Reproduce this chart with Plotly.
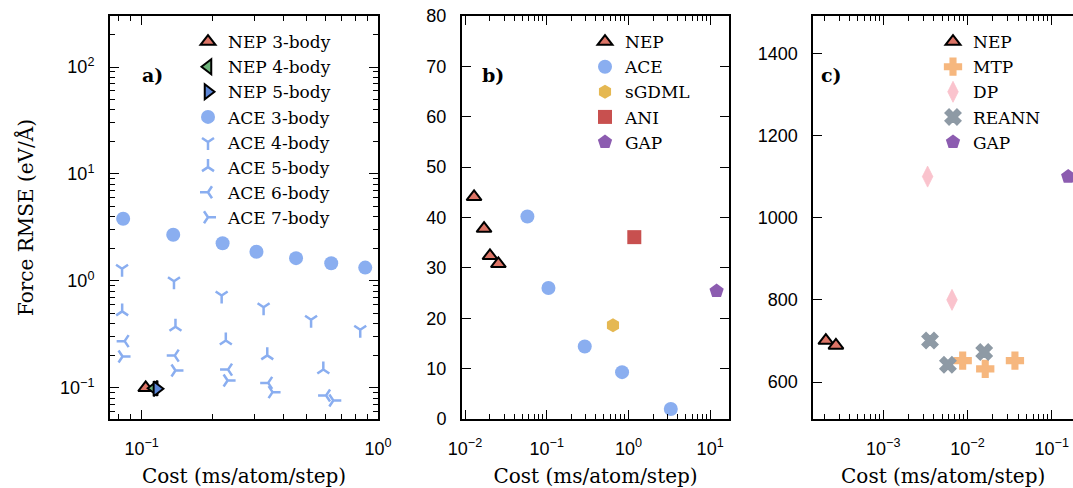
import plotly.graph_objects as go

# ---------------- Data ----------------
# Panel a) Force RMSE (eV/Å) vs cost
nep_a_labels = ["NEP 3-body", "NEP 4-body", "NEP 5-body"]
nep_a_cost = [0.104, 0.113, 0.116]
nep_a_rmse = [0.100, 0.099, 0.098]

ace_a_labels = ["ACE 3-body", "ACE 4-body", "ACE 5-body", "ACE 6-body", "ACE 7-body"]
ace3_cost = [0.0835, 0.136, 0.220, 0.306, 0.450, 0.634, 0.883]
ace3_rmse = [3.81, 2.70, 2.25, 1.87, 1.63, 1.46, 1.33]
ace4_cost = [0.0826, 0.137, 0.218, 0.328, 0.521, 0.841]
ace4_rmse = [1.30, 0.99, 0.73, 0.567, 0.433, 0.349]
ace5_cost = [0.0827, 0.139, 0.227, 0.340, 0.587]
ace5_rmse = [0.518, 0.372, 0.277, 0.201, 0.148]
ace6_cost = [0.0847, 0.138, 0.232, 0.343, 0.603]
ace6_rmse = [0.273, 0.200, 0.148, 0.111, 0.0847]
ace7_cost = [0.083, 0.139, 0.231, 0.358, 0.647]
ace7_rmse = [0.196, 0.145, 0.117, 0.091, 0.076]

# Panel b)
nep_b_cost = [0.0129, 0.0171, 0.0202, 0.0256]
nep_b_rmse = [44.1, 37.8, 32.4, 30.8]
ace_b_cost = [0.058, 0.105, 0.292, 0.836, 3.30]
ace_b_rmse = [40.2, 26.0, 14.4, 9.3, 2.0]
sgdml_b_cost = [0.647]
sgdml_b_rmse = [18.6]
ani_b_cost = [1.18]
ani_b_rmse = [36.1]
gap_b_cost = [12.0]
gap_b_rmse = [25.4]

# Panel c)
nep_c_cost = [2.08e-4, 2.74e-4]
nep_c_rmse = [701, 689]
mtp_c_cost = [0.00877, 0.01625, 0.0366]
mtp_c_rmse = [652, 632, 652]
dp_c_cost = [0.00336, 0.00655]
dp_c_rmse = [1100, 800]
reann_c_cost = [0.00359, 0.00586, 0.0158]
reann_c_rmse = [701, 642, 673]
gap_c_cost = [0.157]
gap_c_rmse = [1100]

# Tick labels
log_major_a_x = [0.1, 1]
log_major_a_x_text = ["10<sup>−1</sup>", "10<sup>0</sup>"]
log_major_a_y = [0.1, 1, 10, 100]
log_major_a_y_text = ["10<sup>−1</sup>", "10<sup>0</sup>", "10<sup>1</sup>", "10<sup>2</sup>"]
log_major_b_x = [0.01, 0.1, 1, 10]
log_major_b_x_text = ["10<sup>−2</sup>", "10<sup>−1</sup>", "10<sup>0</sup>", "10<sup>1</sup>"]
log_major_c_x = [0.001, 0.01, 0.1]
log_major_c_x_text = ["10<sup>−3</sup>", "10<sup>−2</sup>", "10<sup>−1</sup>"]
lin_ticks_c_y = [600, 800, 1000, 1200, 1400]

# ---------------- Styling ----------------
C_NEP = "#DC7466"
C_NEP4 = "#6DB27A"
C_NEP5 = "#5C86D6"
C_ACE = "#8AAEF0"
C_SGDML = "#E5B852"
C_ANI = "#C8504F"
C_GAP = "#8C5CB0"
C_MTP = "#F6B77E"
C_DP = "#FAC3CD"
C_REANN = "#8E9AA5"

SERIF = "DejaVu Serif"
SANS = "Liberation Sans"

fig = go.Figure()

def add(x, y, name, symbol, color, size, xa, ya, leg, outline=None, lw=0):
    marker = dict(symbol=symbol, size=size, color=color,
                  line=dict(color=outline if outline else color, width=lw))
    fig.add_trace(go.Scatter(x=x, y=y, name=name, mode="markers", marker=marker,
                             xaxis=xa, yaxis=ya, legend=leg, showlegend=True))

# panel a
add(nep_a_cost[0:1], nep_a_rmse[0:1], nep_a_labels[0], "triangle-up", C_NEP, 13, "x", "y", "legend", "black", 2)
add(nep_a_cost[1:2], nep_a_rmse[1:2], nep_a_labels[1], "triangle-left", C_NEP4, 13, "x", "y", "legend", "black", 2)
add(nep_a_cost[2:3], nep_a_rmse[2:3], nep_a_labels[2], "triangle-right", C_NEP5, 13, "x", "y", "legend", "black", 2)
add(ace3_cost, ace3_rmse, ace_a_labels[0], "circle", C_ACE, 14, "x", "y", "legend")
add(ace4_cost, ace4_rmse, ace_a_labels[1], "y-down", C_ACE, 10, "x", "y", "legend", lw=2.5)
add(ace5_cost, ace5_rmse, ace_a_labels[2], "y-up", C_ACE, 10, "x", "y", "legend", lw=2.5)
add(ace6_cost, ace6_rmse, ace_a_labels[3], "y-left", C_ACE, 10, "x", "y", "legend", lw=2.5)
add(ace7_cost, ace7_rmse, ace_a_labels[4], "y-right", C_ACE, 10, "x", "y", "legend", lw=2.5)

# panel b
add(nep_b_cost, nep_b_rmse, "NEP", "triangle-up", C_NEP, 13, "x2", "y2", "legend2", "black", 2)
add(ace_b_cost, ace_b_rmse, "ACE", "circle", C_ACE, 14, "x2", "y2", "legend2")
add(sgdml_b_cost, sgdml_b_rmse, "sGDML", "hexagon", C_SGDML, 14, "x2", "y2", "legend2")
add(ani_b_cost, ani_b_rmse, "ANI", "square", C_ANI, 14, "x2", "y2", "legend2")
add(gap_b_cost, gap_b_rmse, "GAP", "pentagon", C_GAP, 15, "x2", "y2", "legend2")

# panel c
add(nep_c_cost, nep_c_rmse, "NEP", "triangle-up", C_NEP, 13, "x3", "y3", "legend3", "black", 2)
add(mtp_c_cost, mtp_c_rmse, "MTP", "cross", C_MTP, 14, "x3", "y3", "legend3", lw=1.5)
add(dp_c_cost, dp_c_rmse, "DP", "diamond-tall", C_DP, 15, "x3", "y3", "legend3", lw=0.8)
add(reann_c_cost, reann_c_rmse, "REANN", "x", C_REANN, 14, "x3", "y3", "legend3", lw=1.5)
add(gap_c_cost, gap_c_rmse, "GAP", "pentagon", C_GAP, 15, "x3", "y3", "legend3")

W, H = 1073, 488
def px(v):
    return v / W

axis_common = dict(showline=True, linewidth=2, linecolor="black", ticks="inside",
                   ticklen=9, tickwidth=1.4, tickcolor="black", showgrid=False,
                   zeroline=False, automargin=False,
                   tickfont=dict(family=SANS, size=18, color="black"))
log_minor = dict(ticks="inside", dtick="D1", ticklen=5, tickwidth=1.3, tickcolor="black", showgrid=False)
xtitle = dict(text="Cost (ms/atom/step)", font=dict(family=SERIF, size=20, color="black"), standoff=14)

leg_y = 0.98
fig.update_layout(
    width=W, height=H,
    margin=dict(l=0, r=0, t=16, b=69, autoexpand=False),
    plot_bgcolor="white", paper_bgcolor="white",
    xaxis=dict(type="log", domain=[px(110), px(378)], range=[-1.134, 0.0],
               tickmode="array", tickvals=log_major_a_x, ticktext=log_major_a_x_text,
               minor=log_minor, mirror="allticks", ticklabelstandoff=12, title=xtitle,
               anchor="y", **axis_common),
    yaxis=dict(type="log", domain=[0, 1], range=[-1.292, 2.477],
               tickmode="array", tickvals=log_major_a_y, ticktext=log_major_a_y_text,
               minor=log_minor, mirror="allticks", ticklabelstandoff=10, anchor="x",
               title=dict(text="Force RMSE (eV/Å)", font=dict(family=SERIF, size=20, color="black"), standoff=21),
               **axis_common),
    xaxis2=dict(type="log", domain=[px(462), px(729)], range=[-2.037, 1.231],
                tickmode="array", tickvals=log_major_b_x, ticktext=log_major_b_x_text,
                minor=log_minor, mirror="allticks", ticklabelstandoff=12, title=xtitle,
                anchor="y2", **axis_common),
    yaxis2=dict(domain=[0, 1], range=[0, 80], tickmode="linear", tick0=0, dtick=10,
                mirror="allticks", ticklabelstandoff=10, anchor="x2", **axis_common),
    xaxis3=dict(type="log", domain=[px(813.3), 1.0], range=[-3.831, -0.747],
                tickmode="array", tickvals=log_major_c_x, ticktext=log_major_c_x_text,
                minor=log_minor, mirror="allticks", ticklabelstandoff=12, title=xtitle,
                anchor="y3", **axis_common),
    yaxis3=dict(domain=[0, 1], range=[510, 1491], tickmode="array", tickvals=lin_ticks_c_y,
                mirror=False, ticklabelstandoff=10, anchor="x3", **axis_common),
    legend=dict(x=px(188), y=leg_y, xanchor="left", yanchor="top", bgcolor="rgba(0,0,0,0)",
                font=dict(family=SERIF, size=17, color="black"), tracegroupgap=0),
    legend2=dict(x=px(585), y=leg_y, xanchor="left", yanchor="top", bgcolor="rgba(0,0,0,0)",
                 font=dict(family=SERIF, size=17, color="black"), tracegroupgap=0),
    legend3=dict(x=px(933), y=leg_y, xanchor="left", yanchor="top", bgcolor="rgba(0,0,0,0)",
                 font=dict(family=SERIF, size=17, color="black"), tracegroupgap=0),
    annotations=[
        dict(text="<b>a)</b>", x=px(140), y=1 - (62 - 16) / 403, xref="paper", yref="paper",
             showarrow=False, font=dict(family=SERIF, size=19, color="black")),
        dict(text="<b>b)</b>", x=px(493), y=1 - (62 - 16) / 403, xref="paper", yref="paper",
             showarrow=False, font=dict(family=SERIF, size=19, color="black")),
        dict(text="<b>c)</b>", x=px(844), y=1 - (62 - 16) / 403, xref="paper", yref="paper",
             showarrow=False, font=dict(family=SERIF, size=19, color="black")),
    ],
)

fig.write_html("out.html")
